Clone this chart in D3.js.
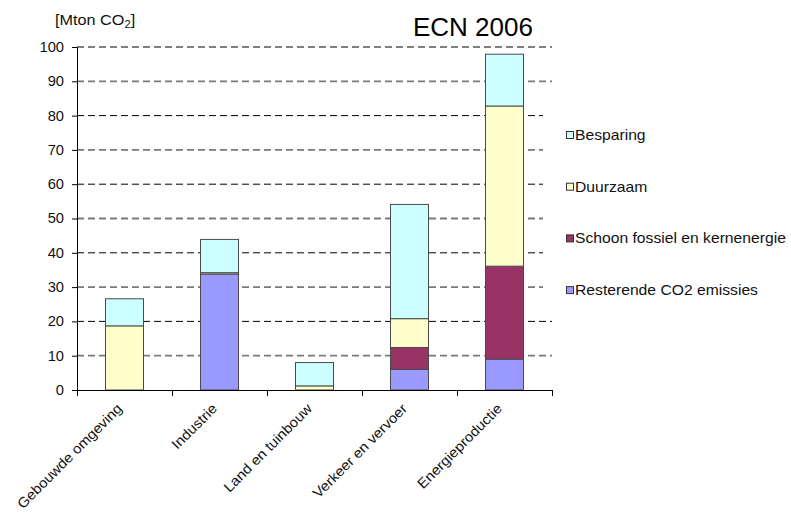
<!DOCTYPE html>
<html>
<head>
<meta charset="utf-8">
<script src="https://cdn.jsdelivr.net/npm/d3@7"></script>
<style>
  html, body { margin: 0; padding: 0; background: #fff; }
  svg { display: block; font-family: "Liberation Sans", Arial, sans-serif; }
</style>
</head>
<body>
<svg id="chart" width="791" height="514"></svg>
<script>
// Sectors (x categories)
const categories = ["Gebouwde omgeving", "Industrie", "Land en tuinbouw", "Verkeer en vervoer", "Energieproductie"];

// Stacked series, bottom to top [Mton CO2]
const resterende = [0, 33.8, 0, 6.0, 9.0];
const schoon     = [0, 0, 0, 6.4, 27.1];
const duurzaam   = [18.7, 0.4, 1.2, 8.4, 46.7];
const besparing  = [7.9, 9.7, 6.8, 33.3, 15.1];

const seriesNames = ["Resterende CO2 emissies", "Schoon fossiel en kernenergie", "Duurzaam", "Besparing"];
const seriesValues = [resterende, schoon, duurzaam, besparing];
const seriesColors = ["#9999FF", "#993366", "#FFFFCC", "#CCFFFF"];

const yTicks = [0, 10, 20, 30, 40, 50, 60, 70, 80, 90, 100];

const svg = d3.select("#chart");
const SX = 1.12; // horizontal widening of the label type

const x = d3.scaleBand().domain(categories).range([77, 552]).paddingInner(0.6).paddingOuter(0.3);
const y = d3.scaleLinear().domain([0, 100]).range([390, 47]);

// Dashed gridlines
svg.append("g").selectAll("line")
  .data(yTicks.filter(d => d > 0))
  .join("line")
  .attr("x1", 77).attr("x2", 552)
  .attr("y1", d => y(d)).attr("y2", d => y(d))
  .attr("stroke", d => (d / 10) % 2 ? "#7a7a7a" : "#000")
  .attr("stroke-width", d => (d / 10) % 2 ? 1.8 : 1)
  .attr("stroke-dasharray", "7,4");

// Stacked bars
const rows = categories.map((c, i) => {
  const r = { cat: c };
  seriesNames.forEach((s, k) => r[s] = seriesValues[k][i]);
  return r;
});
const stack = d3.stack().keys(seriesNames)(rows);

const gBars = svg.append("g");
stack.forEach((layer, k) => {
  gBars.append("g").selectAll("rect")
    .data(layer.filter(d => d[1] - d[0] > 0))
    .join("rect")
    .attr("x", d => x(d.data.cat))
    .attr("width", x.bandwidth())
    .attr("y", d => y(d[1]))
    .attr("height", d => y(d[0]) - y(d[1]))
    .attr("fill", seriesColors[k])
    .attr("stroke", "#4a4a4a")
    .attr("stroke-width", 1);
});

// Legend box (covers the gridline ends)
svg.append("rect").attr("x", 543).attr("y", 97).attr("width", 248).attr("height", 205).attr("fill", "#fff");

const legendOrder = [3, 2, 1, 0];
const legend = svg.append("g").selectAll("g")
  .data(legendOrder)
  .join("g")
  .attr("transform", (k, i) => `translate(566, ${135 + i * 51.7})`);
legend.append("rect")
  .attr("x", 0.5).attr("y", -3.5).attr("width", 7).attr("height", 7)
  .attr("fill", k => seriesColors[k]).attr("stroke", "#333").attr("stroke-width", 1);
legend.append("text")
  .attr("transform", `translate(9,0) scale(${SX},1)`)
  .attr("dy", "0.36em")
  .attr("font-size", 14)
  .attr("fill", "#111")
  .text(k => seriesNames[k]);

// Y axis
const yAxis = svg.append("g").attr("transform", "translate(77,0)")
  .call(d3.axisLeft(y).tickValues(yTicks).tickSize(5).tickPadding(0).tickFormat(d3.format("d")));
yAxis.select(".domain").attr("stroke", "#000");
yAxis.selectAll(".tick line").attr("stroke", "#000");
yAxis.selectAll(".tick text")
  .attr("x", null)
  .attr("font-size", 14)
  .attr("font-family", "Liberation Sans, Arial, sans-serif")
  .attr("fill", "#111")
  .attr("text-anchor", "end")
  .attr("transform", `translate(-13,0) scale(1.05,1)`);

// X axis with ticks at category boundaries
const bounds = d3.range(categories.length + 1).map(i => 77 + i * x.step());
const gx = svg.append("g");
gx.append("line").attr("x1", 77).attr("x2", 552).attr("y1", 390.5).attr("y2", 390.5).attr("stroke", "#000");
gx.selectAll("line.tk").data(bounds).join("line").attr("class", "tk")
  .attr("x1", d => Math.round(d) + 0.5).attr("x2", d => Math.round(d) + 0.5)
  .attr("y1", 390).attr("y2", 396).attr("stroke", "#000");
gx.selectAll("text").data(categories).join("text")
  .attr("transform", d => `translate(${x(d) + x.bandwidth() / 2 - 5}, 406) rotate(-45) scale(1.07,1)`)
  .attr("text-anchor", "end")
  .attr("dy", "0.35em")
  .attr("font-size", 14)
  .attr("fill", "#111")
  .text(d => d);

// Unit label
const unit = svg.append("text")
  .attr("transform", `translate(55,25) scale(${SX},1)`)
  .attr("font-size", 14.5).attr("fill", "#111");
unit.append("tspan").text("[Mton CO");
unit.append("tspan").attr("font-size", 10).attr("dy", 3).text("2");
unit.append("tspan").attr("dy", -3).text("]");

// Title
svg.append("text")
  .attr("x", 413).attr("y", 36)
  .attr("font-size", 26).attr("fill", "#000")
  .text("ECN 2006");
</script>
</body>
</html>
